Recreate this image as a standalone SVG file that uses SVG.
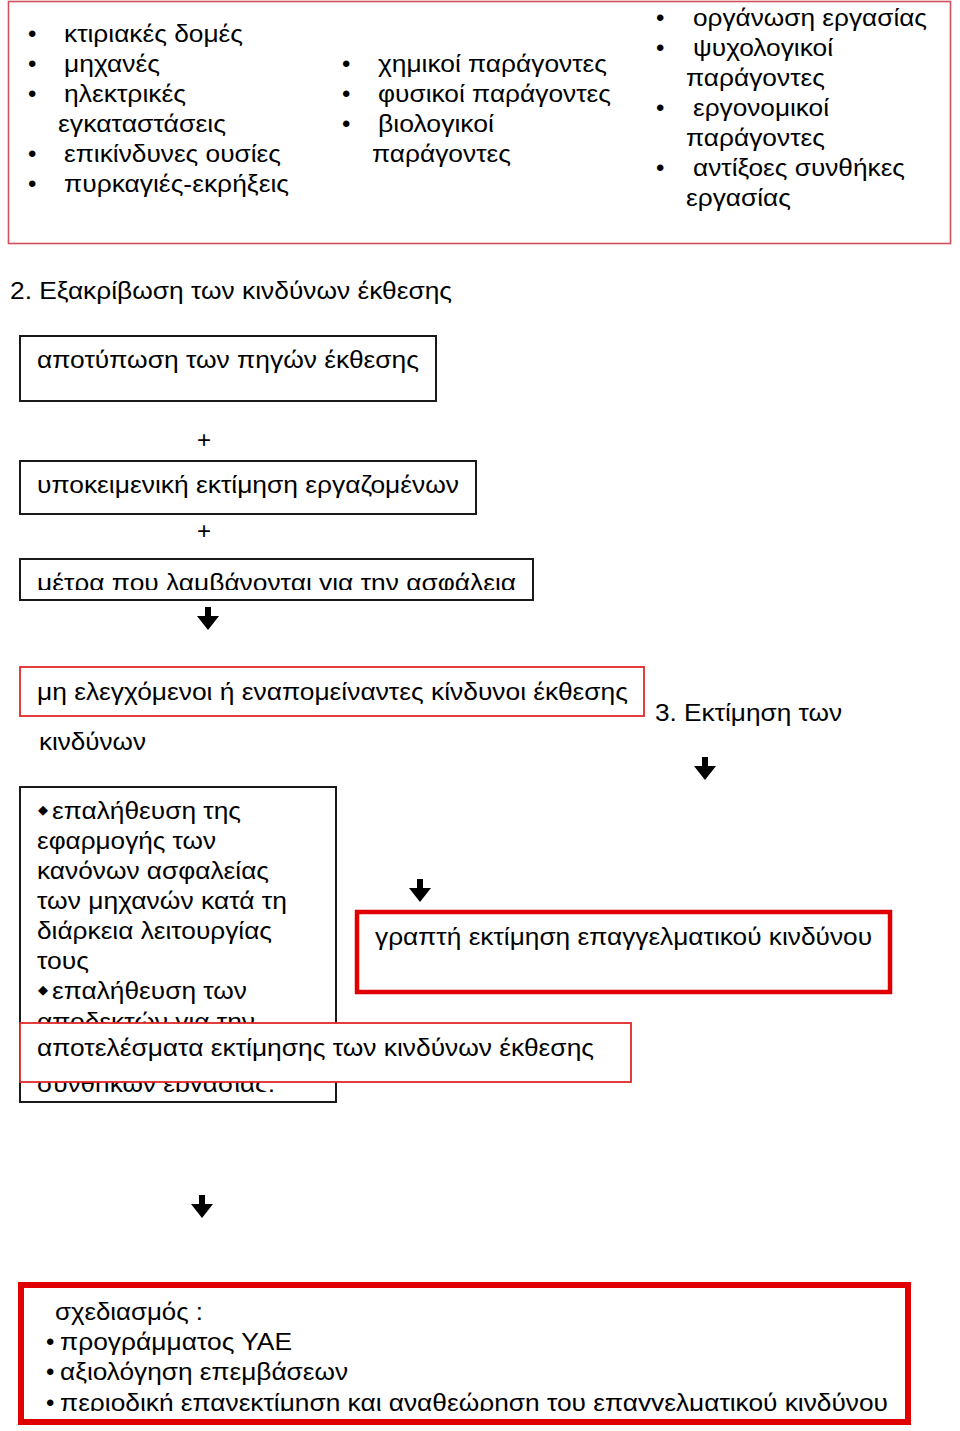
<svg xmlns="http://www.w3.org/2000/svg" width="960" height="1431" viewBox="0 0 960 1431">
<style>
text{font-family:"Liberation Sans","Noto Sans",Arial,sans-serif;font-size:24px;fill:#000}
.dia{font-family:"DejaVu Sans",sans-serif;font-size:13px}
.bk{fill:#fff;stroke:#1a1a1a;stroke-width:2}
.pk{fill:#fff;stroke:#d0505c;stroke-width:1.6}
.rt{fill:#fff;stroke:#e02828;stroke-width:1.8}
.r4{fill:#fff;stroke:#e00000;stroke-width:4.5}
.r6{fill:#fff;stroke:#e00000;stroke-width:6}
.arr{fill:#000}
</style>
<defs>
<clipPath id="c3"><rect x="0" y="540" width="960" height="50"/></clipPath>
<clipPath id="cb"><rect x="0" y="780" width="960" height="312"/></clipPath>
<clipPath id="cz"><rect x="0" y="1280" width="960" height="131"/></clipPath>
</defs>
<rect width="960" height="1431" fill="#fff"/>

<g id="factors">
<rect class="pk" x="8.5" y="1.5" width="942" height="242"/>
<text x="28" y="42">•</text><text x="64" y="42" textLength="179" lengthAdjust="spacingAndGlyphs">κτιριακές δομές</text>
<text x="28" y="72">•</text><text x="64" y="72" textLength="96" lengthAdjust="spacingAndGlyphs">μηχανές</text>
<text x="28" y="102">•</text><text x="64" y="102" textLength="122" lengthAdjust="spacingAndGlyphs">ηλεκτρικές</text>
<text x="58" y="132" textLength="168" lengthAdjust="spacingAndGlyphs">εγκαταστάσεις</text>
<text x="28" y="162">•</text><text x="64" y="162" textLength="217" lengthAdjust="spacingAndGlyphs">επικίνδυνες ουσίες</text>
<text x="28" y="192">•</text><text x="64" y="192" textLength="225" lengthAdjust="spacingAndGlyphs">πυρκαγιές-εκρήξεις</text>

<text x="342" y="72">•</text><text x="378" y="72" textLength="229" lengthAdjust="spacingAndGlyphs">χημικοί παράγοντες</text>
<text x="342" y="102">•</text><text x="378" y="102" textLength="233" lengthAdjust="spacingAndGlyphs">φυσικοί παράγοντες</text>
<text x="342" y="132">•</text><text x="378" y="132" textLength="116" lengthAdjust="spacingAndGlyphs">βιολογικοί</text>
<text x="372" y="162" textLength="139" lengthAdjust="spacingAndGlyphs">παράγοντες</text>

<text x="656" y="26">•</text><text x="693" y="26" textLength="234" lengthAdjust="spacingAndGlyphs">οργάνωση εργασίας</text>
<text x="656" y="56">•</text><text x="693" y="56" textLength="140" lengthAdjust="spacingAndGlyphs">ψυχολογικοί</text>
<text x="686" y="86" textLength="139" lengthAdjust="spacingAndGlyphs">παράγοντες</text>
<text x="656" y="116">•</text><text x="693" y="116" textLength="136" lengthAdjust="spacingAndGlyphs">εργονομικοί</text>
<text x="686" y="146" textLength="139" lengthAdjust="spacingAndGlyphs">παράγοντες</text>
<text x="656" y="176">•</text><text x="693" y="176" textLength="212" lengthAdjust="spacingAndGlyphs">αντίξοες συνθήκες</text>
<text x="686" y="206" textLength="105" lengthAdjust="spacingAndGlyphs">εργασίας</text>
</g>

<g id="title2">
<text x="10" y="299" textLength="442" lengthAdjust="spacingAndGlyphs">2. Εξακρίβωση των κινδύνων έκθεσης</text>
</g>

<g id="box-sources">
<rect class="bk" x="20" y="336" width="416" height="65"/>
<text x="37" y="368" textLength="382" lengthAdjust="spacingAndGlyphs">αποτύπωση των πηγών έκθεσης</text>
</g>
<g id="plus1"><text x="197" y="448">+</text></g>
<g id="box-subjective">
<rect class="bk" x="20" y="461" width="456" height="53"/>
<text x="37" y="493" textLength="422" lengthAdjust="spacingAndGlyphs">υποκειμενική εκτίμηση εργαζομένων</text>
</g>
<g id="plus2"><text x="197" y="539">+</text></g>
<g id="box-measures">
<rect class="bk" x="20" y="559" width="513" height="41"/>
<text x="37" y="591" textLength="479" lengthAdjust="spacingAndGlyphs" clip-path="url(#c3)">μέτρα που λαμβάνονται για την ασφάλεια</text>
</g>

<g id="box-uncontrolled">
<rect class="rt" x="20" y="667" width="624" height="49"/>
<text x="37" y="700" textLength="591" lengthAdjust="spacingAndGlyphs">μη ελεγχόμενοι ή εναπομείναντες κίνδυνοι έκθεσης</text>
</g>
<g id="title3">
<text x="655" y="721" textLength="187" lengthAdjust="spacingAndGlyphs">3. Εκτίμηση των</text>
<text x="39" y="750" textLength="107" lengthAdjust="spacingAndGlyphs">κινδύνων</text>
</g>

<g id="box-verify">
<rect class="bk" x="20" y="787" width="316" height="315"/>
<text class="dia" x="38" y="814">◆</text>
<text x="52" y="819" textLength="189" lengthAdjust="spacingAndGlyphs">επαλήθευση της</text>
<text x="37" y="849" textLength="179" lengthAdjust="spacingAndGlyphs">εφαρμογής των</text>
<text x="37" y="879" textLength="232" lengthAdjust="spacingAndGlyphs">κανόνων ασφαλείας</text>
<text x="37" y="909" textLength="250" lengthAdjust="spacingAndGlyphs">των μηχανών κατά τη</text>
<text x="37" y="939" textLength="235" lengthAdjust="spacingAndGlyphs">διάρκεια λειτουργίας</text>
<text x="37" y="969" textLength="52" lengthAdjust="spacingAndGlyphs">τους</text>
<text class="dia" x="38" y="994">◆</text>
<text x="52" y="999" textLength="195" lengthAdjust="spacingAndGlyphs">επαλήθευση των</text>
<g clip-path="url(#cb)">
<text x="37" y="1030" textLength="218" lengthAdjust="spacingAndGlyphs">αποδεκτών για την</text>
<text x="37" y="1092" textLength="238" lengthAdjust="spacingAndGlyphs">συνθηκών εργασίας;</text>
</g>
</g>

<g id="box-written">
<rect class="r4" x="357" y="912" width="533" height="80"/>
<text x="375" y="945" textLength="497" lengthAdjust="spacingAndGlyphs">γραπτή εκτίμηση επαγγελματικού κινδύνου</text>
</g>

<g id="box-results">
<rect class="rt" x="20" y="1023" width="611" height="59"/>
<text x="37" y="1056" textLength="557" lengthAdjust="spacingAndGlyphs">αποτελέσματα εκτίμησης των κινδύνων έκθεσης</text>
</g>

<g id="box-planning">
<rect class="r6" x="21" y="1285" width="887" height="137"/>
<text x="55" y="1320" textLength="148" lengthAdjust="spacingAndGlyphs">σχεδιασμός :</text>
<text x="46" y="1350">•</text><text x="60" y="1350" textLength="232" lengthAdjust="spacingAndGlyphs">προγράμματος ΥΑΕ</text>
<text x="46" y="1380">•</text><text x="60" y="1380" textLength="288" lengthAdjust="spacingAndGlyphs">αξιολόγηση επεμβάσεων</text>
<g clip-path="url(#cz)">
<text x="46" y="1411">•</text><text x="60" y="1411" textLength="828" lengthAdjust="spacingAndGlyphs">περιοδική επανεκτίμηση και αναθεώρηση του επαγγελματικού κινδύνου</text>
</g>
</g>

<g id="connectors">
<path class="arr" d="M205,607 h6 v9 h8 l-11,14 l-11,-14 h8 z"/>
<path class="arr" d="M702,757 h6 v9 h8 l-11,14 l-11,-14 h8 z"/>
<path class="arr" d="M417,879 h6 v9 h8 l-11,14 l-11,-14 h8 z"/>
<path class="arr" d="M199,1195 h6 v9 h8 l-11,14 l-11,-14 h8 z"/>
</g>
</svg>
